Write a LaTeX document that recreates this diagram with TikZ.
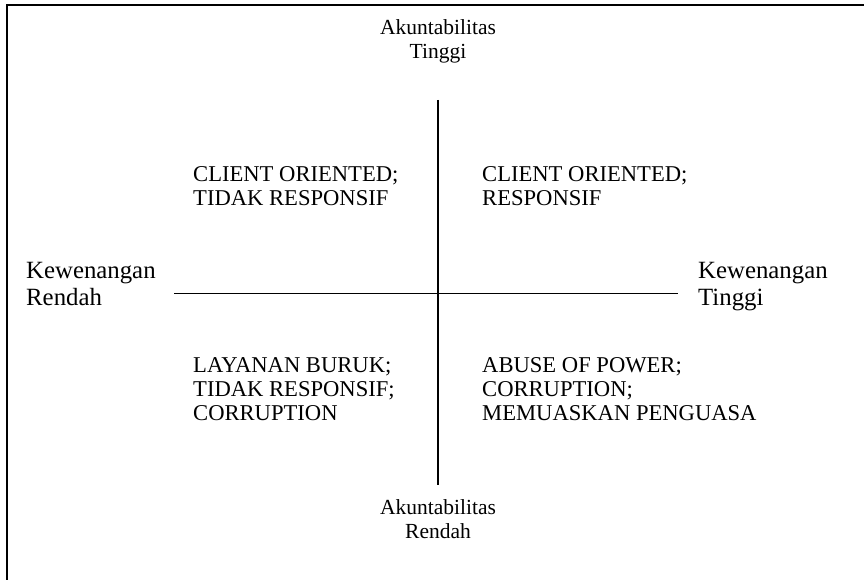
\documentclass[tikz,border=0pt]{standalone}
\usepackage{fontspec}
\setmainfont{Liberation Serif}
\begin{document}
\begin{tikzpicture}[x=1pt,y=-1pt,
  axis/.style={line width=1.6pt},
  frame/.style={line width=2pt},
  quad/.style={inner sep=0pt,anchor=base west,align=left,font=\fontsize{22.6}{24}\selectfont},
  pole/.style={inner sep=0pt,anchor=base,align=center,font=\fontsize{21.5}{24}\selectfont},
  side/.style={inner sep=0pt,anchor=base west,align=left,font=\fontsize{24.8}{27.5}\selectfont}]
  \useasboundingbox (0,0) rectangle (864,580);
  % frame: only the top and left edges show
  \draw[frame] (6.5,600) -- (6.5,5) -- (900,5);
  % axes
  \coordinate (vt) at (438,100);
  \coordinate (vb) at (438,485);
  \coordinate (hl) at (174,293.5);
  \coordinate (hr) at (678,293.5);
  \draw[axis] (vt) -- (vb);
  \draw[axis] (hl) -- (hr);
  % pole labels
  \node[pole] (atop) at (438,58.5) {Akuntabilitas\\Tinggi};
  \node[pole] (abot) at (438,538) {Akuntabilitas\\Rendah};
  \node[side] (kleft) at (26,305.5) {Kewenangan\\Rendah};
  \node[side] (kright) at (698,305.5) {Kewenangan\\Tinggi};
  % quadrants
  \node[quad] (q1) at (193,205) {CLIENT ORIENTED;\\TIDAK RESPONSIF};
  \node[quad] (q2) at (482,205) {CLIENT ORIENTED;\\RESPONSIF};
  \node[quad] (q3) at (193,420) {LAYANAN BURUK;\\TIDAK RESPONSIF;\\CORRUPTION};
  \node[quad] (q4) at (482,420) {ABUSE OF POWER;\\CORRUPTION;\\MEMUASKAN PENGUASA};
\end{tikzpicture}
\end{document}
